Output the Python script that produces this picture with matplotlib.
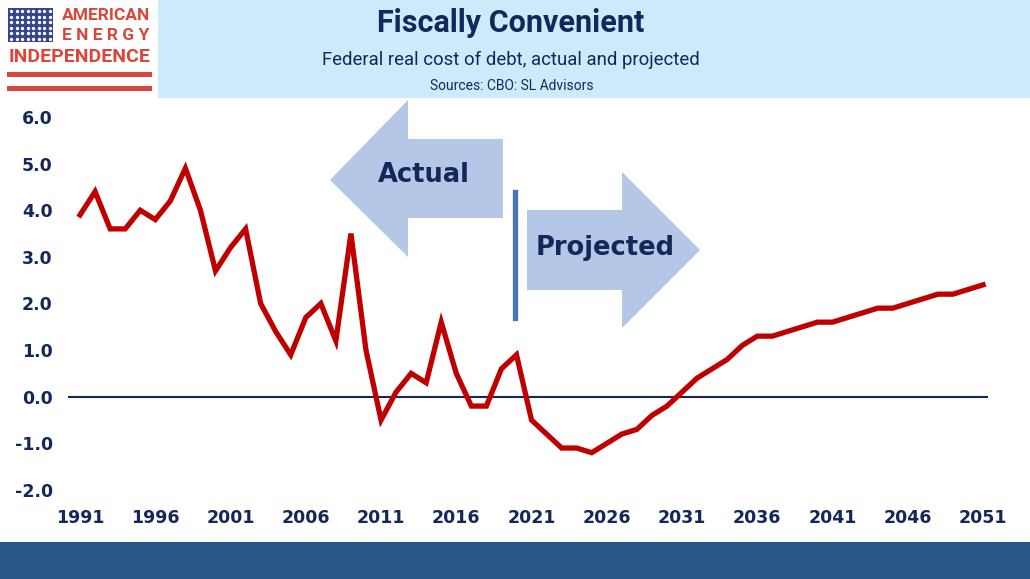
import numpy as np
import matplotlib
matplotlib.use("Agg")
import matplotlib.pyplot as plt
from matplotlib.patches import Rectangle, Polygon

# -------------------------------
# Data
# -------------------------------
years = list(range(1991, 2052))
real_cost = [
    3.9, 4.4, 3.6, 3.6, 4.0, 3.8, 4.2, 4.9, 4.0, 2.7,   # 1991-2000
    3.2, 3.6, 2.0, 1.4, 0.9, 1.7, 2.0, 1.2, 3.5, 1.0,   # 2001-2010
    -0.5, 0.1, 0.5, 0.3, 1.6, 0.5, -0.2, -0.2, 0.6, 0.9,  # 2011-2020
    -0.5, -0.8, -1.1, -1.1, -1.2, -1.0, -0.8, -0.7, -0.4, -0.2,  # 2021-2030
    0.1, 0.4, 0.6, 0.8, 1.1, 1.3, 1.3, 1.4, 1.5, 1.6,   # 2031-2040
    1.6, 1.7, 1.8, 1.9, 1.9, 2.0, 2.1, 2.2, 2.2, 2.3,   # 2041-2050
    2.4,                                                 # 2051
]
x_ticks = list(range(1991, 2052, 5))
y_ticks = [-2.0, -1.0, 0.0, 1.0, 2.0, 3.0, 4.0, 5.0, 6.0]

title = "Fiscally Convenient"
subtitle = "Federal real cost of debt, actual and projected"
sources = "Sources: CBO: SL Advisors"

# -------------------------------
# Styles
# -------------------------------
W, H = 1030, 579
navy = "#14275A"
red_line = "#C00000"
band_blue = "#CDEAFB"
arrow_blue = "#B4C7E7"
bar_blue = "#2B5887"
logo_red = "#D9473C"
narrow = ["Roboto", "DejaVu Sans"]


def px(x, y):
    # pixel (from top-left) -> figure fraction
    return x / W, 1 - y / H


fig = plt.figure(figsize=(W / 100, H / 100), dpi=100)
fig.patch.set_facecolor("white")

# header band and footer bar
fig.patches.append(Rectangle(px(158, 98), 872 / W, 98 / H, transform=fig.transFigure,
                             facecolor=band_blue, edgecolor="none", zorder=0))
fig.patches.append(Rectangle(px(0, 579), 1, 37 / H, transform=fig.transFigure,
                             facecolor=bar_blue, edgecolor="none", zorder=0))

# logo
fig.patches.append(Rectangle(px(8, 42), 45 / W, 34 / H, transform=fig.transFigure,
                             facecolor="#34458A", edgecolor="none", zorder=1))
sx, sy = np.meshgrid(np.linspace(11, 50, 8), np.linspace(11, 39, 6))
sx, sy = sx.ravel(), sy.ravel()
fig.add_artist(plt.Line2D(sx / W, 1 - sy / H, transform=fig.transFigure, linestyle="none",
                          marker="o", markersize=1.4, color="white", zorder=2))
for top in (72, 86):
    fig.patches.append(Rectangle(px(7, top + 5), 145 / W, 5 / H, transform=fig.transFigure,
                                 facecolor=logo_red, edgecolor="none", zorder=1))
logo_font = ["Roboto", "DejaVu Sans"]
fig.text(*px(106, 15), "AMERICAN", color=logo_red, fontsize=12.5, fontweight="bold",
         ha="center", va="center", family=logo_font)
fig.text(*px(106, 35), "E N E R G Y", color=logo_red, fontsize=12.5, fontweight="bold",
         ha="center", va="center", family=logo_font)
fig.text(*px(80, 57), "INDEPENDENCE", color=logo_red, fontsize=14, fontweight="bold",
         ha="center", va="center", family=logo_font)

# titles
fig.text(*px(511, 23), title, color=navy, fontsize=22, fontweight="bold",
         ha="center", va="center", family=narrow)
fig.text(*px(511, 60), subtitle, color=navy, fontsize=13.4,
         ha="center", va="center", family=narrow)
fig.text(*px(512, 86), sources, color=navy, fontsize=10,
         ha="center", va="center", family=narrow)

# -------------------------------
# Main axes
# -------------------------------
ax = fig.add_axes([68 / W, 1 - 490 / H, 920 / W, 373 / H])
ax.set_facecolor("none")
ax.set_xlim(1990.2, 2051.33)
ax.set_ylim(-2.0, 6.0)
ax.axhline(0, color=navy, linewidth=1.5, zorder=2)
ax.plot(years, real_cost, color=red_line, linewidth=3.8, solid_joinstyle="miter", zorder=3)

ax.set_xticks(x_ticks)
ax.set_yticks(y_ticks)
ax.set_yticklabels([f"{v:.1f}" for v in y_ticks])
ax.tick_params(length=0, labelsize=12.5, labelcolor=navy)
ax.tick_params(axis="y", pad=11)
ax.tick_params(axis="x", pad=14)
for lab in ax.get_xticklabels() + ax.get_yticklabels():
    lab.set_fontweight("bold")
for s in ax.spines.values():
    s.set_visible(False)

# -------------------------------
# Actual / Projected arrows
# -------------------------------
left_arrow = [(330, 180), (408, 100), (408, 139), (503, 139), (503, 218), (408, 218), (408, 257)]
right_arrow = [(527, 210), (622, 210), (622, 172), (700, 250), (622, 328), (622, 290), (527, 290)]
for pts in (left_arrow, right_arrow):
    fig.patches.append(Polygon([px(x, y) for x, y in pts], closed=True, transform=fig.transFigure,
                               facecolor=arrow_blue, edgecolor="none", zorder=1))
fig.add_artist(plt.Line2D([515 / W, 515 / W], [1 - 192 / H, 1 - 318 / H], transform=fig.transFigure,
                          color="#4A72B8", linewidth=3.8, zorder=2))
fig.text(*px(424, 175), "Actual", color=navy, fontsize=18.5, fontweight="bold",
         ha="center", va="center")
fig.text(*px(605, 248), "Projected", color=navy, fontsize=18.5, fontweight="bold",
         ha="center", va="center")

fig.savefig("out.png", dpi=100)
